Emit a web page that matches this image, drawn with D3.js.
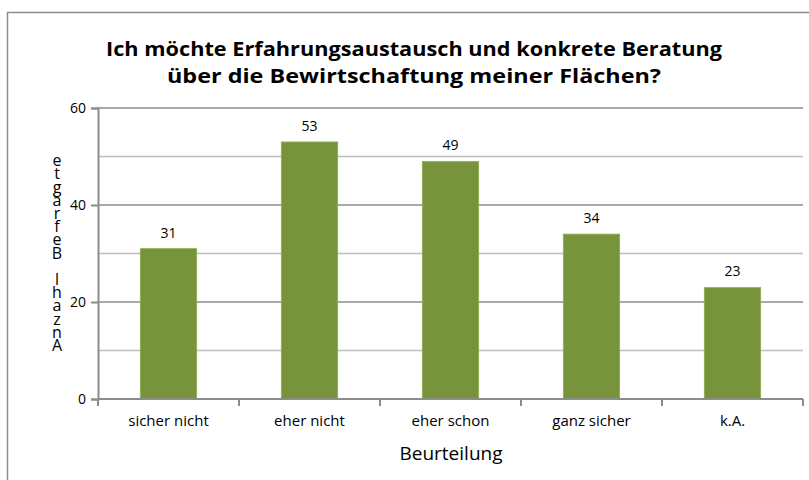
<!DOCTYPE html>
<html>
<head>
<meta charset="utf-8">
<script src="https://cdn.jsdelivr.net/npm/d3@7"></script>
<style>
  body { margin: 0; background: #fff; }
  svg { display: block; font-family: "Open Sans", "DejaVu Sans", sans-serif; }
</style>
</head>
<body>
<div class="chart"></div>
<script>
// data
const categories = ["sicher nicht", "eher nicht", "eher schon", "ganz sicher", "k.A."];
const values = [31, 53, 49, 34, 23];
const yTicks = [0, 20, 40, 60];
const yMinor = [10, 30, 50];
const titleLines = ["Ich möchte Erfahrungsaustausch und konkrete Beratung",
                    "über die Bewirtschaftung meiner Flächen?"];
const yTitle = "Anzahl Befragte";
const xTitle = "Beurteilung";

const width = 809;
const height = 480;
const margin = { top: 108, right: 6, bottom: 81, left: 98 };

const svg = d3.select(".chart")
  .append("svg")
  .attr("width", width)
  .attr("height", height);

// outer frame (cut off at right/bottom like the original)
svg.append("path")
  .attr("d", `M7.5,${height + 2} V12.5 H${width + 2}`)
  .attr("fill", "none")
  .attr("stroke", "#8c8c8c")
  .attr("stroke-width", 1.5);

const x = d3.scaleBand()
  .domain(categories)
  .range([margin.left, width - margin.right])
  .paddingInner(0.6)
  .paddingOuter(0.3);

const y = d3.scaleLinear()
  .domain([0, 60])
  .range([height - margin.bottom, margin.top]);

// minor gridlines
svg.append("g")
  .selectAll("line")
  .data(yMinor)
  .join("line")
  .attr("x1", margin.left)
  .attr("x2", width - margin.right)
  .attr("y1", d => y(d))
  .attr("y2", d => y(d))
  .attr("stroke", "#bfbfbf")
  .attr("stroke-width", 1.5);

// major gridlines
svg.append("g")
  .selectAll("line")
  .data(yTicks.filter(d => d > 0))
  .join("line")
  .attr("x1", margin.left)
  .attr("x2", width - margin.right)
  .attr("y1", d => y(d))
  .attr("y2", d => y(d))
  .attr("stroke", "#8c8c8c")
  .attr("stroke-width", 1.5);

// bars
svg.append("g")
  .selectAll("rect")
  .data(values)
  .join("rect")
  .attr("x", (d, i) => x(categories[i]))
  .attr("y", d => y(d))
  .attr("width", x.bandwidth())
  .attr("height", d => y(0) - y(d))
  .attr("fill", "#77933c")
  .attr("stroke", "#8fb34b")
  .attr("stroke-width", 0.8);

// value labels
svg.append("g")
  .selectAll("text")
  .data(values)
  .join("text")
  .attr("x", (d, i) => x(categories[i]) + x.bandwidth() / 2)
  .attr("y", d => y(d) - 11)
  .attr("text-anchor", "middle")
  .attr("font-size", 14)
  .attr("fill", "#000")
  .text(d => d);

// y axis
const yAxis = svg.append("g")
  .attr("transform", `translate(${margin.left},0)`)
  .call(d3.axisLeft(y).tickValues(yTicks).tickSize(7).tickPadding(5));
yAxis.selectAll("path, line").attr("stroke", "#8c8c8c").attr("stroke-width", 2);
yAxis.selectAll("text").attr("font-size", 14).attr("fill", "#000")
  .attr("font-family", "Open Sans, sans-serif");

// x axis, ticks between categories
const xStep = (width - margin.right - margin.left) / categories.length;
const xAx = svg.append("g").attr("transform", `translate(0,${y(0)})`);
xAx.append("line")
  .attr("x1", margin.left).attr("x2", width - margin.right)
  .attr("stroke", "#8c8c8c").attr("stroke-width", 2);
xAx.selectAll(".tk")
  .data(d3.range(categories.length + 1))
  .join("line")
  .attr("class", "tk")
  .attr("x1", i => margin.left + i * xStep)
  .attr("x2", i => margin.left + i * xStep)
  .attr("y1", 0).attr("y2", 7)
  .attr("stroke", "#8c8c8c").attr("stroke-width", 2);
xAx.selectAll("text")
  .data(categories)
  .join("text")
  .attr("x", d => x(d) + x.bandwidth() / 2)
  .attr("y", 27)
  .attr("text-anchor", "middle")
  .attr("font-size", 15)
  .attr("fill", "#000")
  .text(d => d);

// axis titles
svg.append("text")
  .attr("x", 451)
  .attr("y", 460)
  .attr("text-anchor", "middle")
  .attr("font-size", 19)
  .attr("fill", "#000")
  .text(xTitle);

// y title: upright letters stacked bottom to top
const yChars = yTitle.split("");
svg.append("g")
  .selectAll("text")
  .data(yChars)
  .join("text")
  .attr("x", 57)
  .attr("y", (d, i) => 351 - i * 13.2)
  .attr("text-anchor", "middle")
  .attr("font-size", 16)
  .attr("fill", "#000")
  .text(d => d);

// title
svg.append("g")
  .selectAll("text")
  .data(titleLines)
  .join("text")
  .attr("x", 414)
  .attr("y", (d, i) => 56 + i * 27)
  .attr("text-anchor", "middle")
  .attr("font-size", 20)
  .attr("font-weight", "bold")
  .attr("fill", "#000")
  .attr("textLength", (d, i) => i === 0 ? 616 : 494)
  .attr("lengthAdjust", "spacingAndGlyphs")
  .text(d => d);
</script>
</body>
</html>
